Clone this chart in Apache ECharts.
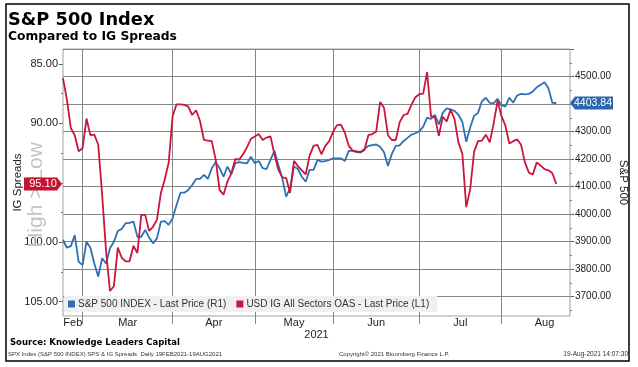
<!DOCTYPE html>
<html><head><meta charset="utf-8">
<script src="https://cdn.jsdelivr.net/npm/echarts@6/dist/echarts.min.js"></script>
<style>html,body{margin:0;padding:0;background:#fff}#c{width:638px;height:367px}</style>
</head><body><div id="c"></div>
<script>
// ---- data (x = trading-day index from 19-Feb-2021) ----
const monthNames = ['Feb','Mar','Apr','May','Jun','Jul','Aug'];
const monthEnds = [5,28,49,69,91,112];      // last trading day index before each new month
const igTicks = [85,90,95,100,105];
const spxTicks = [3700,3800,3900,4000,4100,4200,4300,4400,4500,4600];
const spx = [3906,3878,3884,3924,3827,3815,3900,3878,3821,3773,
3840,3821,3876,3900,3939,3946,3967,3968,3973,3918,
3918,3943,3915,3894,3912,3973,3975,3961,3985,4033,
4078,4078,4088,4106,4128,4128,4143,4128,4167,4189,
4167,4136,4173,4145,4185,4189,4186,4185,4209,4185,
4193,4167,4164,4197,4230,4179,4131,4064,4094,4173,
4164,4136,4118,4161,4161,4197,4191,4193,4197,4203,
4203,4203,4193,4230,4230,4225,4224,4237,4248,4251,
4253,4245,4225,4175,4219,4248,4250,4266,4277,4289,
4294,4301,4318,4351,4346,4361,4326,4368,4384,4381,
4375,4361,4335,4263,4315,4357,4368,4410,4423,4404,
4403,4419,4395,4392,4423,4405,4431,4437,4435,4437,
4446,4461,4470,4479,4457,4404,4403.84];
const ig = [86.2,88.0,90.4,91.0,92.35,92.1,89.6,91.0,90.95,91.8,
96.0,100.75,104.1,103.7,100.45,101.3,101.6,101.6,100.3,100.9,
97.7,97.7,99.05,98.7,98.1,95.85,94.7,93.3,89.4,88.4,
88.4,88.45,88.6,89.3,88.9,89.8,91.4,91.45,91.5,93.05,
95.6,96.0,94.9,94.2,93.0,93.05,92.6,92.0,91.3,91.1,
90.9,91.4,91.2,91.1,92.6,93.9,94.55,94.6,95.85,93.15,
93.6,93.95,94.3,92.7,91.9,91.8,92.6,91.9,91.5,90.7,
90.15,90.1,90.8,91.9,92.3,92.35,92.4,92.25,91.0,90.9,
90.7,88.2,88.7,91.0,91.4,91.4,89.9,89.3,89.2,88.45,
87.8,87.55,87.5,85.7,89.4,89.5,91.05,89.45,89.85,88.85,
89.65,91.6,92.55,97.05,95.55,92.4,91.5,91.45,90.95,91.6,
90.0,88.1,89.4,90.2,91.7,91.5,91.35,91.8,93.3,94.15,
94.3,93.3,93.55,93.85,93.95,94.2,95.1];
const spxName = 'S&P 500 INDEX - Last Price (R1)';
const igName = 'USD IG All Sectors OAS - Last Price (L1)';

// ---- layout helpers ----
const monthCenters = [monthEnds[0] / 2];
for (let i = 0; i < monthEnds.length - 1; i++) monthCenters.push((monthEnds[i] + monthEnds[i + 1]) / 2);
monthCenters.push(monthEnds[monthEnds.length - 1] + 11);
const igMinor = [];
for (let v = 85; v <= 105; v += 2.5) igMinor.push(v);
const spxMinor = [];
for (let v = 3650; v <= 4600; v += 50) spxMinor.push(v);

const BLUE = '#2f70b4', RED = '#c9163a';
const F = 'Liberation Sans, Arial, sans-serif';
const FB = 'DejaVu Sans, Verdana, sans-serif';
const el = document.getElementById('c');
const chart = echarts.init(el, null, {renderer: 'canvas'});

const baseGraphics = [
  {type:'rect', shape:{x:6, y:4, width:623, height:357}, style:{fill:'none', stroke:'#000', lineWidth:1.5}, z:0, silent:true},
  {type:'text', x:8, y:20, style:{text:'S&P 500 Index', font:'bold 17.8px ' + FB, fill:'#000', verticalAlign:'middle'}},
  {type:'text', x:8, y:37, style:{text:'Compared to IG Spreads', font:'bold 12.3px ' + FB, fill:'#000', verticalAlign:'middle'}},
  {type:'text', x:10, y:343, style:{text:'Source: Knowledge Leaders Capital', font:'bold 8.5px ' + FB, fill:'#000', verticalAlign:'middle'}},
  {type:'text', x:8, y:354, style:{text:'SPX Index (S&P 500 INDEX) SPS & IG Spreads  Daily 19FEB2021-19AUG2021', font:'6px ' + F, fill:'#333', verticalAlign:'middle'}},
  {type:'text', x:339, y:354, style:{text:'Copyright\u00a9 2021 Bloomberg Finance L.P.', font:'6px ' + F, fill:'#333', verticalAlign:'middle'}},
  {type:'text', x:628, y:354, style:{text:'19-Aug-2021 14:07:30', font:'6.5px ' + F, fill:'#333', align:'right', verticalAlign:'middle'}},
  {type:'text', x:36, y:195, rotation:Math.PI/2, style:{text:'High > Low', font:'21px ' + F, fill:'#c4c4c4', align:'center', verticalAlign:'middle'}, z:1}
];

const option = {
  animation:false,
  backgroundColor:'#fff',
  grid:{left:63, right:68, top:49, bottom:51, show:true, borderColor:'#a0a0a0', borderWidth:1, backgroundColor:'#fff',
    containLabel:false, outerBoundsMode:'none'},
  legend:{
    left:64, top:296, data:[spxName, igName], icon:'rect', itemWidth:7, itemHeight:7, itemGap:10,
    backgroundColor:'#f0f0f0', padding:[3,8,3,4], borderRadius:0,
    textStyle:{fontFamily:F, fontSize:10, color:'#333', padding:[0,0,0,-2]}
  },
  xAxis:{
    type:'value', min:0, max:129.5,
    axisLine:{show:false},
    axisTick:{show:true, customValues:monthEnds, length:8, lineStyle:{color:'#888'}},
    splitLine:{show:true, lineStyle:{color:'#858585', width:1}},
    axisLabel:{customValues:monthCenters, formatter:v => monthNames[monthCenters.indexOf(v)], fontFamily:F, fontSize:11, color:'#222', margin:1},
    name:'2021', nameLocation:'middle', nameGap:13, nameMoveOverlap:false, nameTextStyle:{fontFamily:F, fontSize:11, color:'#222'}
  },
  yAxis:[
    {type:'value', position:'left', inverse:true, min:83.75, max:106.2,
      axisLine:{show:false}, splitLine:{show:false},
      axisTick:{show:true, customValues:igTicks, length:4, lineStyle:{color:'#555'}},
      axisLabel:{customValues:igTicks, formatter:v => v.toFixed(2), fontFamily:F, fontSize:11, color:'#222', margin:5},
      name:'IG Spreads', nameLocation:'middle', nameRotate:90, nameGap:39, nameMoveOverlap:false,
      nameTextStyle:{fontFamily:F, fontSize:11.5, color:'#222'}},
    {type:'value', position:'right', min:3630, max:4600,
      axisLine:{show:false},
      splitLine:{show:true, lineStyle:{color:'#858585', width:1}},
      axisTick:{show:true, customValues:spxTicks, length:4, lineStyle:{color:'#555'}},
      axisLabel:{customValues:spxTicks.slice(0, -1), formatter:v => v.toFixed(2), fontFamily:F, fontSize:10, color:'#222', margin:5},
      name:'S&P 500', nameLocation:'middle', nameRotate:-90, nameGap:47, nameMoveOverlap:false,
      nameTextStyle:{fontFamily:F, fontSize:11.5, color:'#222'}},
    {type:'value', position:'left', inverse:true, min:83.75, max:106.2,
      axisLine:{show:false}, splitLine:{show:false}, axisLabel:{show:false},
      axisTick:{show:true, customValues:igMinor, length:2, lineStyle:{color:'#777'}}},
    {type:'value', position:'right', min:3630, max:4600,
      axisLine:{show:false}, splitLine:{show:false}, axisLabel:{show:false},
      axisTick:{show:true, customValues:spxMinor, length:2, lineStyle:{color:'#777'}}}
  ],
  series:[
    {name:spxName, type:'line', yAxisIndex:1, data:spx.map((v, i) => [i, v]), showSymbol:false, symbol:'none',
      lineStyle:{color:BLUE, width:1.8}, itemStyle:{color:BLUE}, z:3},
    {name:igName, type:'line', yAxisIndex:0, data:ig.map((v, i) => [i, v]), showSymbol:false, symbol:'none',
      lineStyle:{color:RED, width:1.8}, itemStyle:{color:RED}, z:4}
  ],
  graphic:{elements:baseGraphics}
};
chart.setOption(option);

// value tags at the axes, positioned via the library's scales
const lastIg = ig[ig.length - 1], lastSpx = spx[spx.length - 1];
const yI = chart.convertToPixel({yAxisIndex:0}, lastIg);
const yS = chart.convertToPixel({yAxisIndex:1}, lastSpx);
const h = 6.5;
const tags = [
  {type:'polygon', shape:{points:[[24, yI - h],[57, yI - h],[62, yI],[57, yI + h],[24, yI + h]]}, style:{fill:'#c41230'}, z:50},
  {type:'text', x:43, y:yI, style:{text:lastIg.toFixed(2), font:'11px ' + F, fill:'#fff', align:'center', verticalAlign:'middle'}, z:51},
  {type:'polygon', shape:{points:[[570, yS],[575, yS - h],[613, yS - h],[613, yS + h],[575, yS + h]]}, style:{fill:'#2a67ac'}, z:50},
  {type:'text', x:593, y:yS, style:{text:lastSpx.toFixed(2), font:'10.5px ' + F, fill:'#fff', align:'center', verticalAlign:'middle'}, z:51}
];
chart.setOption({graphic:{elements:baseGraphics.concat(tags)}});
</script></body></html>
